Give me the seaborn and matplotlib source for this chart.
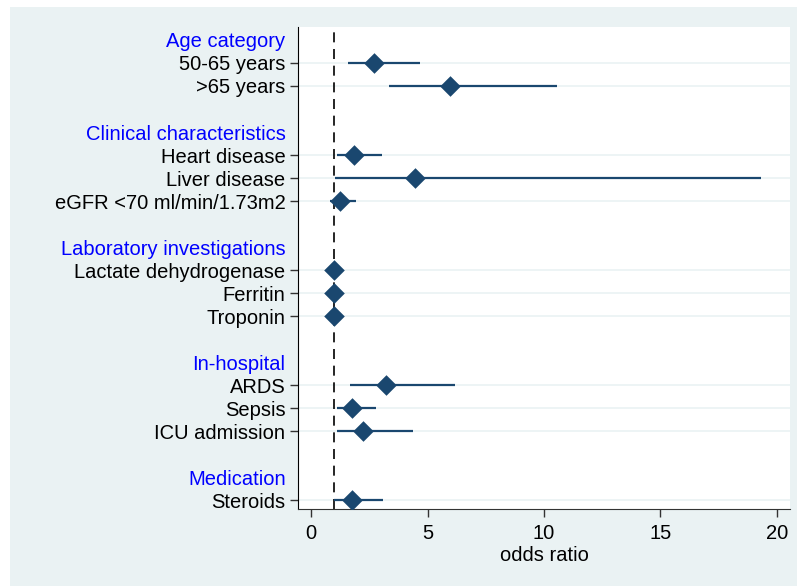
import matplotlib
matplotlib.use("Agg")
import matplotlib.pyplot as plt
import seaborn as sns
import pandas as pd
from matplotlib.patches import Rectangle

# groups and their items
groups = ["Age category", "Clinical characteristics", "Laboratory investigations",
          "In-hospital", "Medication"]
group_items = [
    ["50-65 years", ">65 years"],
    ["Heart disease", "Liver disease", "eGFR <70 ml/min/1.73m2"],
    ["Lactate dehydrogenase", "Ferritin", "Troponin"],
    ["ARDS", "Sepsis", "ICU admission"],
    ["Steroids"],
]
odds = [2.70, 5.95, 1.85, 4.46, 1.24, 1.00, 1.00, 1.00, 3.20, 1.76, 2.23, 1.75]
ci_low = [1.57, 3.36, 1.13, 1.03, 0.82, 0.99, 0.99, 0.99, 1.67, 1.13, 1.13, 1.00]
ci_high = [4.69, 10.54, 3.03, 19.31, 1.93, 1.01, 1.01, 1.01, 6.18, 2.80, 4.39, 3.08]
xticks = [0, 5, 10, 15, 20]

navy = "#1a476f"
bg = "#eaf2f3"

# row layout: header, items, blank
labels, pos, is_header = [], [], []
item_pos = []
r = 0
for g, items in zip(groups, group_items):
    labels.append(g); pos.append(r); is_header.append(True)
    r += 1
    for it in items:
        labels.append(it); pos.append(r); is_header.append(False)
        item_pos.append(r)
        r += 1
    r += 1

df = pd.DataFrame({"y": item_pos, "odds": odds, "lo": ci_low, "hi": ci_high})

sns.set_style("white")
plt.rcParams["font.family"] = ["Liberation Sans", "DejaVu Sans"]
plt.rcParams["text.color"] = "black"
plt.rcParams["xtick.color"] = "black"
plt.rcParams["ytick.color"] = "black"
plt.rcParams["axes.labelcolor"] = "black"

fig = plt.figure(figsize=(7.97, 5.86), dpi=100, facecolor="white")
fig.patches.append(Rectangle((10 / 797, 0), 1, (586 - 7) / 586,
                             transform=fig.transFigure, facecolor=bg,
                             edgecolor="none", zorder=-10))
ax = fig.add_axes([298 / 797, 77 / 586, 492 / 797, 482 / 586])
ax.set_facecolor("white")

ax.axvline(1, color="black", lw=1.2, ls=(0, (6, 4)), zorder=1)
ax.hlines(df["y"], df["lo"], df["hi"], color=navy, lw=1.6, zorder=2)
sns.scatterplot(data=df, x="odds", y="y", marker="D", s=110, color=navy,
                edgecolor=navy, linewidth=0, zorder=3, ax=ax)

ax.set_xlim(-0.56, 20.56)
ax.set_ylim(20.39, -0.565)
ax.set_xticks(xticks)
ax.set_yticks(pos)
ax.set_yticklabels(labels)
ax.tick_params(axis="x", bottom=True, labelsize=14.5, length=6, width=1, pad=5,
               color="#333333", labelcolor="black")
ax.tick_params(axis="y", left=True, labelsize=14.5, length=6, width=1, pad=3,
               color="#333333", labelcolor="black")
ax.grid(axis="y", color=bg, lw=1.2, zorder=0)
ax.set_axisbelow(True)

for t, lab, h in zip(ax.yaxis.get_major_ticks(), ax.get_yticklabels(), is_header):
    if h:
        t.tick1line.set_visible(False)
        t.gridline.set_visible(False)
        lab.set_color("#0000ff")

ax.set_xlabel("odds ratio", fontsize=14.5, labelpad=2, color="black")
ax.set_ylabel("")
for s in ["top", "right"]:
    ax.spines[s].set_visible(False)
ax.spines["left"].set_color("black")
ax.spines["bottom"].set_color("#333333")

fig.savefig("out.png", dpi=100, facecolor=fig.get_facecolor())
